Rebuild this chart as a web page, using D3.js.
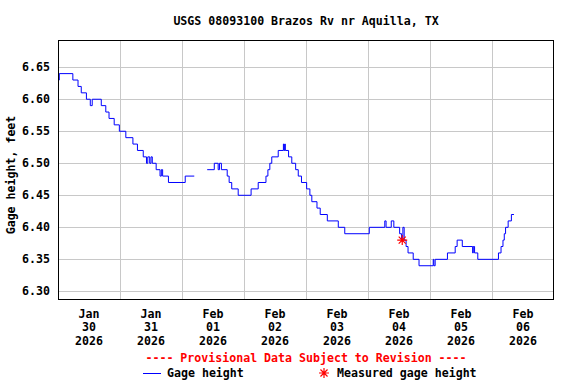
<!DOCTYPE html>
<html>
<head>
<meta charset="utf-8">
<script src="https://cdn.jsdelivr.net/npm/d3@7"></script>
<style>
  body { margin: 0; background: #fff; }
  svg text { font-family: "DejaVu Sans Mono", "Liberation Mono", monospace; font-weight: bold; font-size: 11.6px; }
</style>
</head>
<body>
<div id="chart"></div>
<script>
// step breakpoints: value holds until the next time (null = no data)
const times = [
  "2026-01-30 00:15", "2026-01-30 00:30", "2026-01-30 05:45", "2026-01-30 07:45", "2026-01-30 09:00",
  "2026-01-30 11:00", "2026-01-30 12:30", "2026-01-30 13:15", "2026-01-30 16:45", "2026-01-30 18:30",
  "2026-01-30 19:45", "2026-01-30 21:45", "2026-01-30 23:45", "2026-01-31 02:15", "2026-01-31 05:00",
  "2026-01-31 06:45", "2026-01-31 09:00", "2026-01-31 10:15", "2026-01-31 10:45", "2026-01-31 11:30",
  "2026-01-31 12:00", "2026-01-31 12:30", "2026-01-31 14:00", "2026-01-31 15:30", "2026-01-31 16:00",
  "2026-01-31 16:30", "2026-01-31 18:45", "2026-02-01 01:15", "2026-02-01 04:45", "2026-02-01 05:00",
  "2026-02-01 09:45",
  "2026-02-01 12:30", "2026-02-01 14:00", "2026-02-01 14:30", "2026-02-01 15:15", "2026-02-01 17:30",
  "2026-02-01 18:15", "2026-02-01 19:15", "2026-02-01 21:45", "2026-02-02 02:45", "2026-02-02 05:30",
  "2026-02-02 08:30", "2026-02-02 09:15", "2026-02-02 10:00", "2026-02-02 10:45", "2026-02-02 13:15",
  "2026-02-02 15:15", "2026-02-02 15:30", "2026-02-02 15:45", "2026-02-02 16:00", "2026-02-02 17:15",
  "2026-02-02 18:30", "2026-02-02 20:00", "2026-02-02 21:00", "2026-02-02 22:15", "2026-02-03 00:15",
  "2026-02-03 01:30", "2026-02-03 02:15", "2026-02-03 04:15", "2026-02-03 05:30", "2026-02-03 08:15",
  "2026-02-03 12:30", "2026-02-03 15:00", "2026-02-04 00:30", "2026-02-04 06:30", "2026-02-04 07:00",
  "2026-02-04 09:00", "2026-02-04 10:00", "2026-02-04 12:15", "2026-02-04 13:00", "2026-02-04 13:30",
  "2026-02-04 14:00", "2026-02-04 14:45", "2026-02-04 15:30", "2026-02-04 17:30", "2026-02-04 19:45",
  "2026-02-05 01:15", "2026-02-05 01:30", "2026-02-05 02:00", "2026-02-05 06:45", "2026-02-05 09:45",
  "2026-02-05 10:30", "2026-02-05 12:30", "2026-02-05 16:30", "2026-02-05 16:45", "2026-02-05 17:15",
  "2026-02-05 18:30", "2026-02-06 02:30", "2026-02-06 03:30", "2026-02-06 04:15", "2026-02-06 04:45",
  "2026-02-06 05:15", "2026-02-06 06:15", "2026-02-06 07:30", "2026-02-06 08:30"
];
const gageHeight = [
  6.63, 6.64, 6.63, 6.62, 6.61,
  6.60, 6.59, 6.60, 6.59, 6.58,
  6.57, 6.56, 6.55, 6.54, 6.53,
  6.52, 6.51, 6.50, 6.51, 6.50,
  6.51, 6.50, 6.49, 6.48, 6.49,
  6.48, 6.47, 6.48, 6.48, null,
  6.49,
  6.50, 6.49, 6.50, 6.49, 6.48,
  6.47, 6.46, 6.45, 6.46, 6.47,
  6.48, 6.49, 6.50, 6.51, 6.52,
  6.53, 6.52, 6.53, 6.52, 6.51,
  6.50, 6.49, 6.48, 6.47, 6.46,
  6.45, 6.44, 6.43, 6.42, 6.41,
  6.40, 6.39, 6.40, 6.41, 6.40,
  6.41, 6.40, 6.39, 6.38, 6.40,
  6.38, 6.37, 6.36, 6.35, 6.34,
  6.35, 6.34, 6.35, 6.36, 6.37,
  6.38, 6.37, 6.36, 6.37, 6.36,
  6.35, 6.36, 6.37, 6.38, 6.39,
  6.40, 6.41, 6.42, 6.42
];
const measuredTimes = ["2026-02-04 13:15"];
const measuredHeight = [6.38];
const yTicks = [6.30, 6.35, 6.40, 6.45, 6.50, 6.55, 6.60, 6.65];
const xDomain = ["2026-01-30 00:00", "2026-02-07 00:00"];
const yDomain = [6.2865, 6.6925];

const title = "USGS 08093100 Brazos Rv nr Aquilla, TX";
const yLabel = "Gage height, feet";
const provisional = "---- Provisional Data Subject to Revision ----";
const legendLine = "Gage height";
const legendStar = "Measured gage height";

const W = 576, H = 384;
const margin = {top: 40, right: 22, bottom: 84, left: 58};
const parse = d3.timeParse("%Y-%m-%d %H:%M");

const data = times.map((t, i) => ({t: parse(t), v: gageHeight[i]}));
const measured = measuredTimes.map((t, i) => ({t: parse(t), v: measuredHeight[i]}));

const svg = d3.select("#chart").append("svg")
    .attr("width", W)
    .attr("height", H);

const x = d3.scaleTime()
    .domain(xDomain.map(parse))
    .range([margin.left, W - margin.right]);
const y = d3.scaleLinear()
    .domain(yDomain)
    .range([H - margin.bottom, margin.top]);

// grid
const days = d3.timeDay.range(d3.timeDay.offset(x.domain()[0], 1), x.domain()[1]);
svg.append("g")
    .selectAll("line")
    .data(days)
    .join("line")
    .attr("x1", d => Math.round(x(d)) + 0.5)
    .attr("x2", d => Math.round(x(d)) + 0.5)
    .attr("y1", margin.top)
    .attr("y2", H - margin.bottom)
    .attr("stroke", "#c8c8c8")
    .attr("shape-rendering", "crispEdges");

svg.append("g")
    .selectAll("line")
    .data(yTicks)
    .join("line")
    .attr("x1", margin.left)
    .attr("x2", W - margin.right)
    .attr("y1", d => Math.round(y(d)) + 0.5)
    .attr("y2", d => Math.round(y(d)) + 0.5)
    .attr("stroke", "#c8c8c8")
    .attr("shape-rendering", "crispEdges");

// y tick labels
svg.append("g")
    .selectAll("text")
    .data(yTicks)
    .join("text")
    .attr("x", margin.left - 8)
    .attr("y", d => y(d) + 4)
    .attr("text-anchor", "end")
    .text(d => d.toFixed(2));

// x tick labels at noon of each day
const noons = d3.timeDay.range(x.domain()[0], x.domain()[1]).map(d => d3.timeHour.offset(d, 12));
const xl = svg.append("g")
    .selectAll("text")
    .data(noons)
    .join("text")
    .attr("text-anchor", "middle");
xl.append("tspan").attr("x", d => x(d)).attr("y", 318).text(d3.timeFormat("%b"));
xl.append("tspan").attr("x", d => x(d)).attr("y", 331).text(d3.timeFormat("%d"));
xl.append("tspan").attr("x", d => x(d)).attr("y", 345).text(d3.timeFormat("%Y"));

// gage height line
const line = d3.line()
    .defined(d => d.v !== null)
    .x(d => x(d.t))
    .y(d => y(d.v))
    .curve(d3.curveStepAfter);

svg.append("path")
    .datum(data)
    .attr("fill", "none")
    .attr("stroke", "#0000ff")
    .attr("stroke-width", 1)
    .attr("d", line);

// 8-arm asterisk
const star = {
  draw(ctx, size) {
    const r = Math.sqrt(size) / 2;
    const s = r * Math.SQRT1_2;
    ctx.moveTo(-r, 0); ctx.lineTo(r, 0);
    ctx.moveTo(0, -r); ctx.lineTo(0, r);
    ctx.moveTo(-s, -s); ctx.lineTo(s, s);
    ctx.moveTo(-s, s); ctx.lineTo(s, -s);
  }
};
const starPath = d3.symbol().type(star).size(100);

svg.append("g")
    .selectAll("path")
    .data(measured)
    .join("path")
    .attr("transform", d => `translate(${x(d.t)},${y(d.v)})`)
    .attr("d", starPath)
    .attr("stroke", "#ff0000")
    .attr("stroke-width", 1.2)
    .attr("fill", "none");

// frame
svg.append("rect")
    .attr("x", margin.left + 0.5)
    .attr("y", margin.top + 0.5)
    .attr("width", W - margin.left - margin.right - 1)
    .attr("height", H - margin.top - margin.bottom - 1)
    .attr("fill", "none")
    .attr("stroke", "#000")
    .attr("shape-rendering", "crispEdges");

// title
const cx = (margin.left + W - margin.right) / 2;
svg.append("text")
    .attr("x", cx)
    .attr("y", 25)
    .attr("text-anchor", "middle")
    .text(title);

// y axis label
svg.append("text")
    .attr("transform", `translate(15,175) rotate(-90)`)
    .attr("text-anchor", "middle")
    .text(yLabel);

// provisional note
svg.append("text")
    .attr("x", cx)
    .attr("y", 362)
    .attr("text-anchor", "middle")
    .attr("fill", "#ff0000")
    .text(provisional);

// legend
svg.append("line")
    .attr("x1", 143).attr("x2", 161)
    .attr("y1", 373.5).attr("y2", 373.5)
    .attr("stroke", "#0000ff")
    .attr("shape-rendering", "crispEdges");
svg.append("text").attr("x", 167).attr("y", 377).text(legendLine);
svg.append("path")
    .attr("transform", "translate(324,373)")
    .attr("d", starPath)
    .attr("stroke", "#ff0000")
    .attr("stroke-width", 1.2)
    .attr("fill", "none");
svg.append("text").attr("x", 337).attr("y", 377).text(legendStar);
</script>
</body>
</html>
